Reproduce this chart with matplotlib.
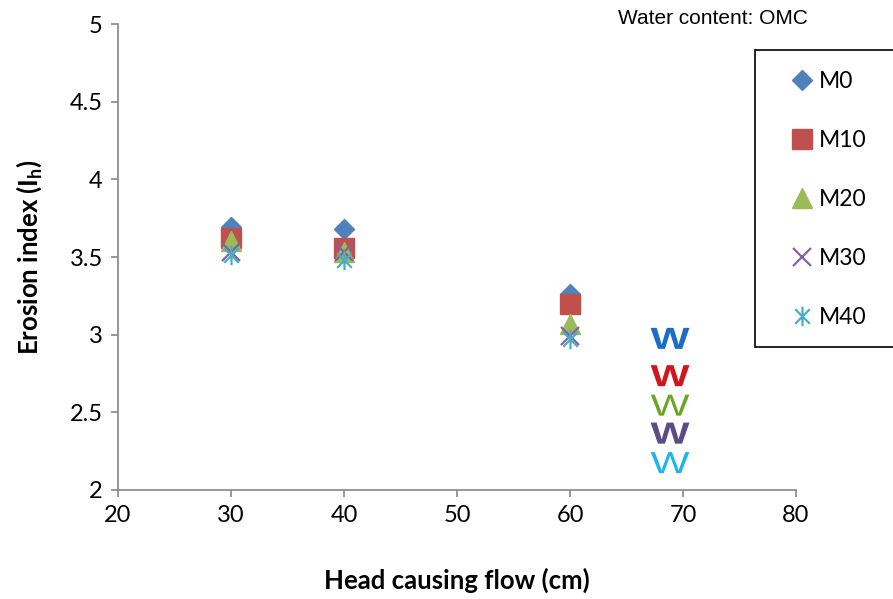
import matplotlib
matplotlib.use("Agg")
import matplotlib.pyplot as plt
from matplotlib.path import Path
from matplotlib.patches import Rectangle
from matplotlib.transforms import Affine2D
from matplotlib.patheffects import AbstractPathEffect

# data
heads = [30, 40, 60]
series_names = ["M0", "M10", "M20", "M30", "M40"]
m0 = [3.69, 3.68, 3.26]
m10 = [3.62, 3.56, 3.20]
m20 = [3.60, 3.53, 3.07]
m30 = [3.53, 3.53, 2.99]
m40 = [3.51, 3.48, 2.97]

# "W" flags at head 70 cm
w_x = 68.85
w_y = [2.96, 2.72, 2.53, 2.35, 2.16]

x_ticks = [20, 30, 40, 50, 60, 70, 80]
y_ticks = [2, 2.5, 3, 3.5, 4, 4.5, 5]

colors = ["#4f81bd", "#c0504d", "#9bbb59", "#8064a2", "#4bacc6"]
w_colors = ["#1a6fc4", "#d4141c", "#6aa624", "#5d4b86", "#1fb4ea"]
w_weights = ["bold", "bold", "normal", "bold", "normal"]

plt.rcParams['mathtext.fontset'] = 'custom'
plt.rcParams['mathtext.rm'] = 'Lato:bold'
plt.rcParams['mathtext.it'] = 'Lato:bold'


class Stretch(AbstractPathEffect):
    # widen glyphs horizontally about their centre
    def __init__(self, sx):
        super().__init__()
        self.sx = sx

    def draw_path(self, renderer, gc, tpath, affine, rgbFace=None):
        ext = tpath.get_extents(affine)
        cx = (ext.x0 + ext.x1) / 2
        tr = affine + Affine2D().translate(-cx, 0).scale(self.sx, 1).translate(cx, 0)
        renderer.draw_path(gc, tpath, tr, rgbFace)


# asterisk marker like the spreadsheet one (X plus vertical bar)
star = Path([(-0.75, -0.75), (0.75, 0.75), (-0.75, 0.75), (0.75, -0.75), (0, -1), (0, 1)],
            [Path.MOVETO, Path.LINETO] * 3)

fig = plt.figure(figsize=(8.93, 5.99), dpi=100)
ax = fig.add_axes([118 / 893, 1 - 490 / 599, 678 / 893, 466 / 599])

axis_gray = "#868686"
ax.plot(heads, m0, linestyle="none", marker="D", ms=10, color=colors[0], label=series_names[0])
ax.plot(heads, m10, linestyle="none", marker="s", ms=14, color=colors[1], label=series_names[1])
ax.plot(heads, m20, linestyle="none", marker="^", ms=14, color=colors[2], label=series_names[2])
ax.plot(heads, m30, linestyle="none", marker="x", ms=13, mew=1.6, color=colors[3], label=series_names[3])
ax.plot(heads, m40, linestyle="none", marker=star, ms=14, mew=1.6, color=colors[4], label=series_names[4])

for y, c, wgt in zip(w_y, w_colors, w_weights):
    ax.text(w_x, y, "W", color=c, fontsize=22, fontweight=wgt, family="Liberation Sans",
            ha="center", va="center", path_effects=[Stretch(1.35)])

ax.set_xlim(20, 80)
ax.set_ylim(2, 5)
ax.set_xticks(x_ticks)
ax.set_yticks(y_ticks)
ax.set_yticklabels([f"{v:g}" for v in y_ticks])
for s in ["top", "right"]:
    ax.spines[s].set_visible(False)
for s in ["left", "bottom"]:
    ax.spines[s].set_color(axis_gray)
    ax.spines[s].set_linewidth(1.2)
ax.tick_params(direction="out", length=5, width=1.2, color=axis_gray, labelsize=17, pad=6)
for lbl in ax.get_xticklabels() + ax.get_yticklabels():
    lbl.set_family("Lato")

ax.set_xlabel("Head causing flow (cm)", fontsize=18.5, fontweight="bold", family="Lato", labelpad=30)
ax.set_ylabel("Erosion index (I$_{\\mathrm{h}}$)", fontsize=18.5, fontweight="bold", family="Lato", labelpad=18)

fig.text(618 / 893, 1 - 19 / 599, "Water content: OMC", fontsize=15, family="Liberation Sans",
         ha="left", va="center")

# legend box runs off the right edge of the figure
fig.patches.append(Rectangle((755 / 893, 1 - 347 / 599), 0.3, 297 / 599, transform=fig.transFigure,
                             facecolor="white", edgecolor="black", linewidth=1.2, clip_on=False))
leg = fig.legend(loc="upper left", bbox_to_anchor=(791 / 893, 1 - 71 / 599), frameon=False,
                 prop={"family": "Lato", "size": 16.5}, handlelength=1.0, handletextpad=0.2,
                 borderpad=0, labelspacing=1.655, borderaxespad=0)

fig.savefig("out.png", dpi=100)
